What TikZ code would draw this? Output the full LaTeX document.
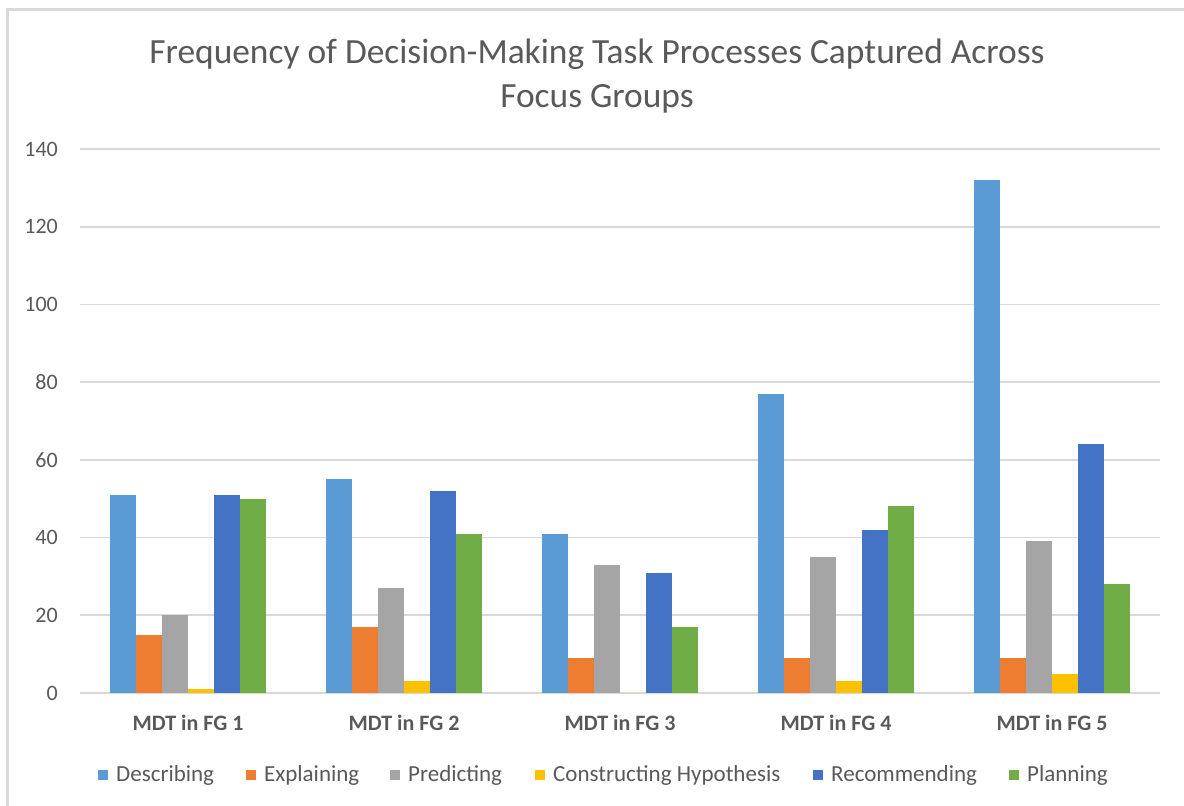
\documentclass[tikz,border=0pt]{standalone}
\usepackage{fontspec}
\setmainfont{Carlito}
\definecolor{cDesc}{HTML}{5B9BD5}
\definecolor{cExpl}{HTML}{ED7D31}
\definecolor{cPred}{HTML}{A5A5A5}
\definecolor{cCons}{HTML}{FFC000}
\definecolor{cReco}{HTML}{4472C4}
\definecolor{cPlan}{HTML}{70AD47}
\definecolor{txtgray}{HTML}{595959}
\definecolor{gridgray}{HTML}{D9D9D9}
\definecolor{framegray}{HTML}{DADADA}
\begin{document}
\begin{tikzpicture}[x=1pt,y=-1pt,
  gridline/.style={draw=gridgray, line width=1.8pt},
  framerule/.style={draw=framegray, line width=3pt},
  axlab/.style={text=txtgray, inner sep=0pt, font=\fontsize{22}{26}\selectfont},
  catlab/.style={text=txtgray, inner sep=0pt, font=\fontsize{22}{26}\selectfont\bfseries},
  leglab/.style={text=txtgray, inner sep=0pt, font=\fontsize{23}{27}\selectfont},
  titlelab/.style={text=txtgray, inner sep=0pt, font=\fontsize{35.4}{40}\selectfont}]
\useasboundingbox (0,0) rectangle (1184,806);
\fill[white] (0,0) rectangle (1184,806);
% frame
\draw[framerule] (6,9.5) -- (1184,9.5);
\draw[framerule] (7.5,8) -- (7.5,806);
% title
\node[titlelab, anchor=base] (title1) at (597,63) {Frequency of Decision-Making Task Processes Captured Across};
\node[titlelab, anchor=base] (title2) at (597,107) {Focus Groups};
% grid and axis labels
\foreach \v in {0,20,...,140} {
  \draw[gridline] (80,{693-\v*3.8857}) -- (1160,{693-\v*3.8857});
  \node[axlab, anchor=east] (ylab\v) at (58,{693-\v*3.8857}) {\v};
}
% bars
\foreach \c/\vals [count=\j from 0] in {
  cDesc/{51,55,41,77,132},
  cExpl/{15,17,9,9,9},
  cPred/{20,27,33,35,39},
  cCons/{1,3,0,3,5},
  cReco/{51,52,31,42,64},
  cPlan/{50,41,17,48,28}} {
  \foreach \v [count=\i from 0] in \vals {
    \fill[\c] ({110+216*\i+26*\j},693) rectangle ++(26,{-\v*3.8857});
  }
}
% category labels
\foreach \n [count=\i from 0] in {1,2,3,4,5} {
  \node[catlab, anchor=base] (cat\n) at ({188+216*\i},730) {MDT in FG \n};
}
% legend
\foreach \c/\name/\x [count=\k] in {
  cDesc/Describing/98,
  cExpl/Explaining/246,
  cPred/Predicting/390,
  cCons/Constructing Hypothesis/535,
  cReco/Recommending/813,
  cPlan/Planning/1009} {
  \fill[\c] (\x,770) rectangle ++(10,10);
  \node[leglab, anchor=base west] (leg\k) at ({\x+18},781) {\name};
}
\end{tikzpicture}
\end{document}
